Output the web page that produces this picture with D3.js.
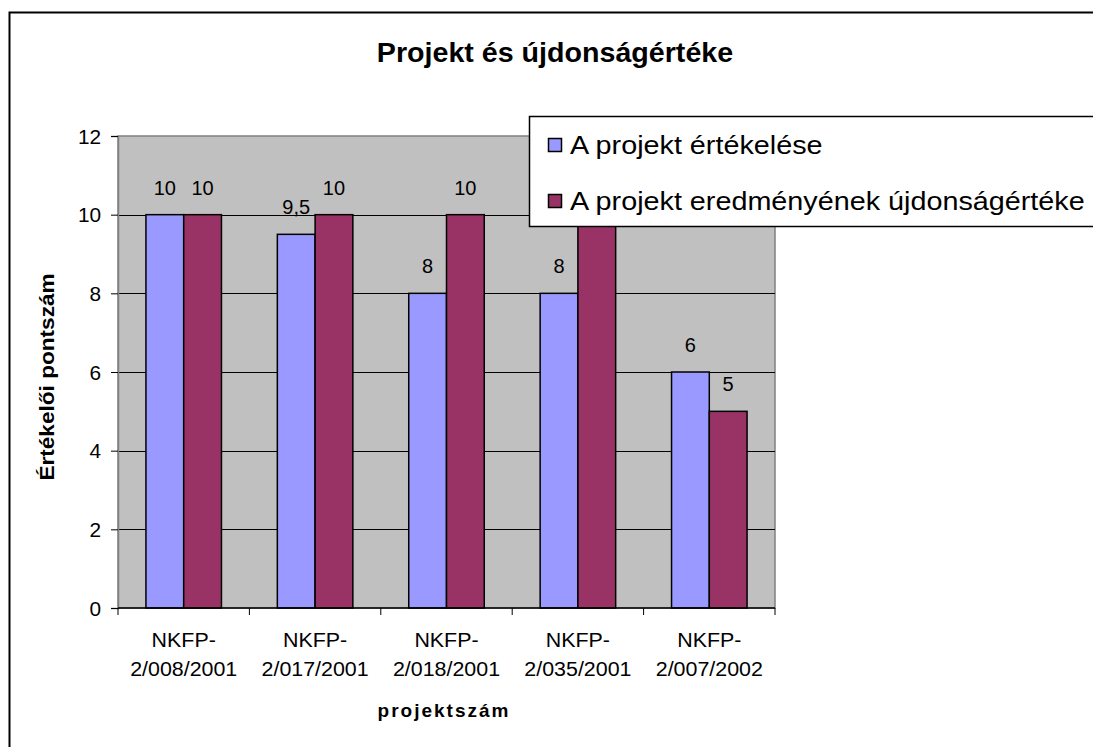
<!DOCTYPE html>
<html lang="hu">
<head>
<meta charset="UTF-8">
<title>Projekt és újdonságértéke</title>
<style>
  body { margin: 0; background: #fff; }
  svg { display: block; font-family: "Liberation Sans", Arial, sans-serif; }
  .tick text { font-size: 20px; fill: #000; }
  .label { font-size: 20px; fill: #000; text-anchor: middle; }
  .cat { font-size: 20px; fill: #000; text-anchor: middle; }
</style>
</head>
<body>
<svg width="1093" height="747"></svg>
<script src="https://d3js.org/d3.v7.min.js"></script>
<script>
// chart data
const projects = [
  ["NKFP-", "2/008/2001"],
  ["NKFP-", "2/017/2001"],
  ["NKFP-", "2/018/2001"],
  ["NKFP-", "2/035/2001"],
  ["NKFP-", "2/007/2002"]
];
const seriesNames = ["A projekt értékelése", "A projekt eredményének újdonságértéke"];
const ertekeles = [10, 9.5, 8, 8, 6];
const ujdonsag = [10, 10, 10, 10, 5];
const yTicks = [0, 2, 4, 6, 8, 10, 12];
const colors = ["#9999ff", "#993366"];

const svg = d3.select("svg");

// the original text is rendered a bit wider than Arial, stretch it a little
function stretch(sel, k) {
  sel.each(function () {
    const w = this.getComputedTextLength();
    d3.select(this).attr("textLength", w * k).attr("lengthAdjust", "spacingAndGlyphs");
  });
}

// outer chart border (right/bottom run off the picture)
svg.append("rect")
  .attr("x", 9.5).attr("y", 12.5)
  .attr("width", 1100).attr("height", 750)
  .attr("fill", "#fff").attr("stroke", "#000").attr("stroke-width", 2);

const plot = { left: 118, top: 136, right: 775, bottom: 608 };

const x = d3.scaleBand()
  .domain(d3.range(projects.length))
  .range([plot.left, plot.right]);

const x1 = d3.scaleBand()
  .domain([0, 1])
  .range([0, x.bandwidth()])
  .paddingOuter(0.74)
  .paddingInner(0);

const y = d3.scaleLinear().domain([0, 12]).range([plot.bottom, plot.top]);

// plot background
svg.append("rect")
  .attr("x", plot.left).attr("y", plot.top)
  .attr("width", plot.right - plot.left).attr("height", plot.bottom - plot.top)
  .attr("fill", "#c0c0c0").attr("stroke", "#808080").attr("stroke-width", 1.5);

// gridlines
svg.append("g")
  .selectAll("line")
  .data(yTicks.filter(t => t > 0 && t < 12))
  .join("line")
  .attr("x1", plot.left).attr("x2", plot.right)
  .attr("y1", d => Math.round(y(d)) + 0.5).attr("y2", d => Math.round(y(d)) + 0.5)
  .attr("stroke", "#000").attr("stroke-width", 1);

// bars
const series = [ertekeles, ujdonsag];
series.forEach((vals, s) => {
  svg.append("g")
    .selectAll("rect")
    .data(vals)
    .join("rect")
    .attr("x", (d, i) => x(i) + x1(s))
    .attr("y", d => y(d))
    .attr("width", x1.bandwidth())
    .attr("height", d => y(0) - y(d))
    .attr("fill", colors[s])
    .attr("stroke", "#000").attr("stroke-width", 1.5);

  svg.append("g")
    .selectAll("text")
    .data(vals)
    .join("text")
    .attr("class", "label")
    .attr("x", (d, i) => x(i) + x1(s) + x1.bandwidth() / 2)
    .attr("y", d => y(d) - 20)
    .text(d => String(d).replace(".", ","));
});

// y axis
const yAxis = svg.append("g")
  .attr("transform", `translate(${plot.left},0)`)
  .call(d3.axisLeft(y).tickValues(yTicks).tickSize(7).tickPadding(10));
yAxis.select(".domain").attr("stroke", "#808080").attr("stroke-width", 1.5);
yAxis.selectAll(".tick line").attr("stroke", "#000");
yAxis.selectAll(".tick text").attr("dy", "0.36em").call(stretch, 1.04);

// x axis
const xAxis = svg.append("g")
  .attr("transform", `translate(0,${plot.bottom})`);
xAxis.append("line")
  .attr("x1", plot.left).attr("x2", plot.right)
  .attr("y1", 0).attr("y2", 0)
  .attr("stroke", "#000").attr("stroke-width", 1.5);
xAxis.selectAll(".xt")
  .data(d3.range(projects.length + 1))
  .join("line")
  .attr("x1", i => i < projects.length ? x(i) : plot.right)
  .attr("x2", i => i < projects.length ? x(i) : plot.right)
  .attr("y1", 0).attr("y2", 7)
  .attr("stroke", "#000");

const catLabels = svg.append("g");
projects.forEach((p, i) => {
  const cx = x(i) + x.bandwidth() / 2;
  p.forEach((line, j) => {
    catLabels.append("text")
      .attr("class", "cat")
      .attr("x", cx)
      .attr("y", 647 + j * 29)
      .text(line)
      .call(stretch, 1.07);
  });
});

// titles
svg.append("text")
  .attr("x", 555).attr("y", 62)
  .attr("text-anchor", "middle")
  .attr("font-size", 27).attr("font-weight", "bold")
  .text("Projekt és újdonságértéke")
  .call(stretch, 1.06);

svg.append("text")
  .attr("transform", "translate(54,377) rotate(-90)")
  .attr("text-anchor", "middle")
  .attr("font-size", 20).attr("font-weight", "bold")
  .text("Értékelői pontszám")
  .call(stretch, 1.13);

svg.append("text")
  .attr("x", 444).attr("y", 717)
  .attr("text-anchor", "middle")
  .attr("font-size", 19).attr("font-weight", "bold")
  .attr("letter-spacing", 2)
  .text("projektszám");

// legend
const legend = svg.append("g");
legend.append("rect")
  .attr("x", 529.5).attr("y", 116.5)
  .attr("width", 600).attr("height", 110)
  .attr("fill", "#fff").attr("stroke", "#000").attr("stroke-width", 1.5);
seriesNames.forEach((name, i) => {
  const cy = 145 + i * 56;
  legend.append("rect")
    .attr("x", 548.5).attr("y", cy - 6.5)
    .attr("width", 13).attr("height", 13)
    .attr("fill", colors[i]).attr("stroke", "#000").attr("stroke-width", 1.5);
  legend.append("text")
    .attr("x", 570).attr("y", cy + 9)
    .attr("font-size", 25)
    .text(name)
    .call(stretch, 1.15);
});
</script>
</body>
</html>
